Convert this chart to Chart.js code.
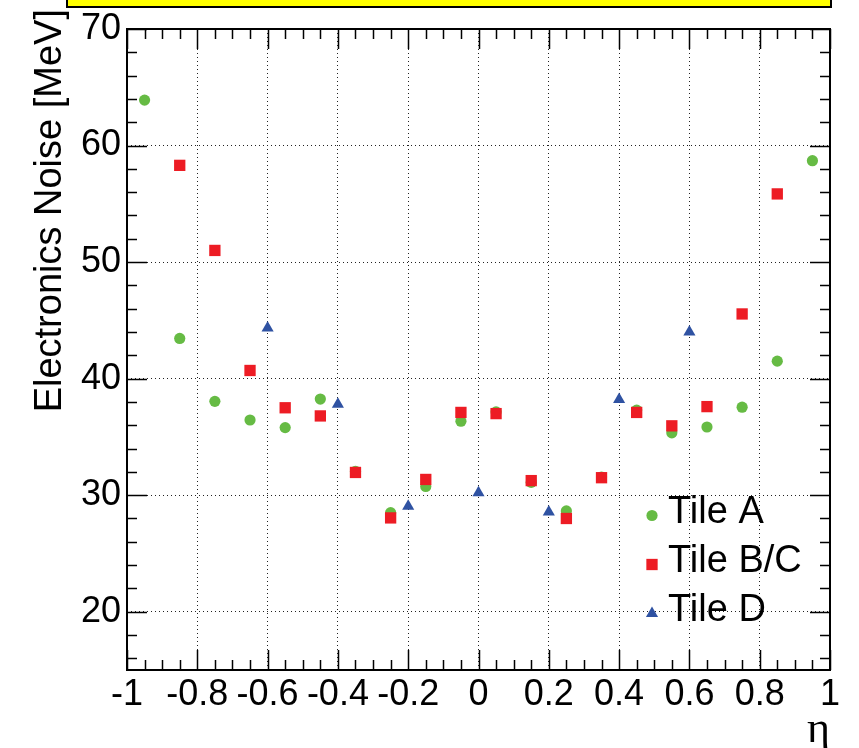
<!DOCTYPE html>
<html>
<head>
<meta charset="utf-8">
<script src="https://cdn.jsdelivr.net/npm/chart.js@4/dist/chart.umd.min.js"></script>
<style>
  html, body { margin: 0; padding: 0; background: #fff; }
  #wrap { width: 859px; height: 748px; }
</style>
</head>
<body>
<div id="wrap"><canvas id="noiseChart" width="859" height="748"></canvas></div>
<script>
// Tile A (bin centres in eta, noise in MeV)
const etaA = [-0.95, -0.85, -0.75, -0.65, -0.55, -0.45, -0.35, -0.25, -0.15, -0.05,
              0.05, 0.15, 0.25, 0.35, 0.45, 0.55, 0.65, 0.75, 0.85, 0.95];
const noiseA = [63.9, 43.45, 38.05, 36.45, 35.8, 38.25, 32.05, 28.5, 30.75, 36.35,
                37.15, 31.1, 28.65, 31.55, 37.3, 35.35, 35.85, 37.55, 41.5, 58.7];

// Tile B/C
const etaBC = [-0.85, -0.75, -0.65, -0.55, -0.45, -0.35, -0.25, -0.15, -0.05,
               0.05, 0.15, 0.25, 0.35, 0.45, 0.55, 0.65, 0.75, 0.85];
const noiseBC = [58.3, 51.0, 40.7, 37.5, 36.8, 31.95, 28.05, 31.35, 37.1,
                 37.0, 31.25, 28.0, 31.5, 37.1, 35.95, 37.6, 45.55, 55.85];

// Tile D
const etaD = [-0.6, -0.4, -0.2, 0, 0.2, 0.4, 0.6];
const noiseD = [44.35, 37.8, 29.05, 30.2, 28.55, 38.2, 44.0];

// axis ticks
const xTicks = [-1, -0.8, -0.6, -0.4, -0.2, 0, 0.2, 0.4, 0.6, 0.8, 1];
const yTicks = [20, 30, 40, 50, 60, 70];
const xMinorStep = 0.05;
const yMinorStep = 2;

const yTitle = "Electronics Noise [MeV]";
const xTitle = "\u03b7";

const toPoints = (xs, ys) => xs.map((x, i) => ({ x: x, y: ys[i] }));

const SANS = "'Liberation Sans', Arial, Helvetica, sans-serif";

// ROOT-like frame: ticks inside on all four sides, y title, legend, title box
const rootFrame = {
  id: "rootFrame",
  beforeDraw(chart) {
    const ctx = chart.ctx;
    ctx.save();
    ctx.fillStyle = "#ffff00";
    ctx.strokeStyle = "#000";
    ctx.lineWidth = 2;
    ctx.fillRect(67, -10, 764, 17);
    ctx.strokeRect(67, -10, 764, 17);
    ctx.restore();
  },
  beforeDatasetsDraw(chart) {
    const ctx = chart.ctx;
    const xs = chart.scales.x, ys = chart.scales.y;
    const a = chart.chartArea;
    ctx.save();
    ctx.strokeStyle = "#000";
    ctx.lineWidth = 1.5;
    ctx.beginPath();
    // x ticks
    for (let v = xs.min; v <= xs.max + 1e-9; v += xMinorStep) {
      const major = xTicks.some(t => Math.abs(t - v) < 1e-6);
      const len = major ? 20 : 10;
      const px = Math.round(xs.getPixelForValue(v)) + 0.5;
      ctx.moveTo(px, a.bottom); ctx.lineTo(px, a.bottom - len);
      ctx.moveTo(px, a.top); ctx.lineTo(px, a.top + len);
    }
    // y ticks
    for (let v = 16; v <= ys.max + 1e-9; v += yMinorStep) {
      const major = yTicks.includes(v);
      const len = major ? 20 : 10;
      const py = Math.round(ys.getPixelForValue(v)) + 0.5;
      ctx.moveTo(a.left, py); ctx.lineTo(a.left + len, py);
      ctx.moveTo(a.right, py); ctx.lineTo(a.right - len, py);
    }
    ctx.stroke();
    ctx.lineWidth = 2;
    ctx.strokeRect(a.left, a.top, a.right - a.left, a.bottom - a.top);
    ctx.restore();
  },
  afterDraw(chart) {
    const ctx = chart.ctx;
    ctx.save();
    // y axis title, aligned to the top end
    ctx.translate(61, 9);
    ctx.rotate(-Math.PI / 2);
    ctx.font = "38px " + SANS;
    ctx.fillStyle = "#000";
    ctx.textAlign = "right";
    ctx.textBaseline = "alphabetic";
    ctx.fillText(yTitle, 0, 0);
    ctx.restore();

    // legend
    ctx.save();
    const order = [0, 1, 2];
    order.forEach((i, k) => {
      const ds = chart.data.datasets[i];
      const lx = 652, ly = 515.5 + k * 49;
      ctx.fillStyle = ds.backgroundColor;
      const opts = { pointStyle: ds.pointStyle, radius: ds.pointRadius, rotation: 0, borderWidth: 0 };
      if (Chart.helpers && Chart.helpers.drawPoint) {
        Chart.helpers.drawPoint(ctx, opts, lx, ly);
      }
      ctx.fillStyle = "#000";
      ctx.font = "38px " + SANS;
      ctx.textAlign = "left";
      ctx.textBaseline = "alphabetic";
      ctx.fillText(ds.label, 668, ly + 7);
    });
    ctx.restore();
  }
};

new Chart(document.getElementById("noiseChart"), {
  type: "scatter",
  data: {
    datasets: [
      {
        label: "Tile A",
        data: toPoints(etaA, noiseA),
        pointStyle: "circle",
        pointRadius: 5.6,
        backgroundColor: "#66bb44",
        borderWidth: 0,
        order: 3,
      },
      {
        label: "Tile B/C",
        data: toPoints(etaBC, noiseBC),
        pointStyle: "rect",
        pointRadius: 8,
        backgroundColor: "#ed1c24",
        borderWidth: 0,
        order: 2,
      },
      {
        label: "Tile D",
        data: toPoints(etaD, noiseD),
        pointStyle: "triangle",
        pointRadius: 7,
        backgroundColor: "#2f52a2",
        borderWidth: 0,
        order: 1,
      },
    ],
  },
  options: {
    responsive: false,
    animation: false,
    devicePixelRatio: 1,
    layout: { padding: { top: 29, right: 29, left: 0, bottom: 0 } },
    plugins: {
      legend: { display: false },
      tooltip: { enabled: false },
    },
    elements: { point: { hoverRadius: 0 } },
    scales: {
      x: {
        type: "linear",
        min: -1,
        max: 1,
        afterBuildTicks: s => { s.ticks = xTicks.map(v => ({ value: v })); },
        afterFit: s => { s.height = 78; },
        ticks: {
          color: "#000",
          font: { family: SANS, size: 36 },
          padding: 3,
          maxRotation: 0,
          autoSkip: false,
          callback: v => String(Math.round(v * 10) / 10),
        },
        grid: { color: "#222", lineWidth: 1, drawTicks: false },
        border: { display: false, dash: [1, 3] },
        title: {
          display: true,
          text: xTitle,
          align: "end",
          color: "#000",
          font: { family: "'Liberation Serif', 'DejaVu Serif', serif", size: 44 },
          padding: { top: 0, bottom: -9 },
        },
      },
      y: {
        type: "linear",
        min: 15,
        max: 70,
        afterBuildTicks: s => { s.ticks = yTicks.map(v => ({ value: v })); },
        afterFit: s => { s.width = 127; },
        ticks: {
          color: "#000",
          font: { family: SANS, size: 36 },
          padding: 6,
        },
        grid: { color: "#222", lineWidth: 1, drawTicks: false },
        border: { display: false, dash: [1, 3] },
      },
    },
  },
  plugins: [rootFrame],
});
</script>
</body>
</html>
